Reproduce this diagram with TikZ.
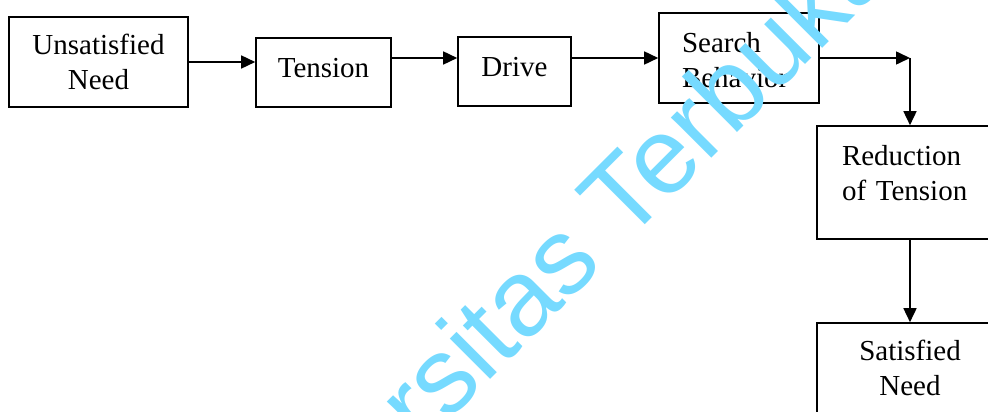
\documentclass[tikz,border=0pt]{standalone}
\usepackage{fontspec}
\setmainfont{Liberation Serif}
\newfontfamily\markfont{Liberation Sans}
\usepackage{xcolor}
\usetikzlibrary{
    arrows.meta,
    calc,
    positioning
}
\definecolor{markcyan}{RGB}{118,218,255}

\begin{document}
\begin{tikzpicture}[x=1pt, y=-1pt,
        box/.style={draw, line width=1.6pt, inner sep=0pt,
            font=\fontsize{29}{35}\selectfont, align=center},
        arr/.style={-{Triangle[length=14pt, width=13pt]}, line width=1.6pt}]
                        \useasboundingbox (0, 0) rectangle (988, 412);

                        \node[box, minimum width=179pt, minimum height=90pt, text depth=-5pt] (unsat) at (98.5, 62) {Unsatisfied\\Need};
                        \node[box, minimum width=135pt, minimum height=69pt, text depth=8.8pt] (tension) at (323.5, 72.5) {Tension};
                        \node[box, minimum width=113pt, minimum height=69pt, text depth=8.8pt] (drive) at (514.5, 71.5) {Drive};
                        \node[box, minimum width=160pt, minimum height=90pt, align=left, text width=114pt, text depth=31.8pt] (search) at (739, 58) {Search\\Behavior};
                        \node[box, minimum width=186pt, minimum height=113pt, align=left, text width=136pt, text depth=54.8pt] (reduction) at (910, 182.5) {Reduction\\of Tension};
                        \node[box, minimum width=186pt, minimum height=90pt, text depth=-5pt] (satisfied) at (910, 368) {Satisfied\\Need};
                        \coordinate (turn) at (reduction.north |- search.east);

                        \draw
                        (unsat.east) edge[arr] (unsat.east -| tension.west)
                        (tension.east |- search.west) edge[arr] (drive.west |- search.west)
                        (drive.east |- search.west) edge[arr] (search.west)
                        (search.east) edge[arr] (turn)
                        (turn) edge[arr] (reduction.north)
                        (reduction.south) edge[arr] (satisfied.north);

                        % watermark, drawn over the diagram
                        \node[text=markcyan, inner sep=0pt, rotate=45, anchor=base west,
                            font=\markfont\fontsize{108}{108}\selectfont] (mark) at (227, 643) {Universitas Terbuka};
                    \end{tikzpicture}
\end{document}
